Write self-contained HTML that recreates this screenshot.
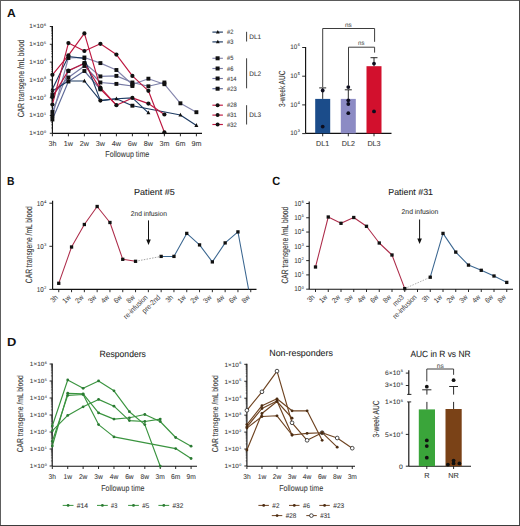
<!DOCTYPE html>
<html><head><meta charset="utf-8"><style>
html,body{margin:0;padding:0;background:#fff;}
svg{display:block;font-family:"Liberation Sans", sans-serif;text-rendering:geometricPrecision;}
</style></head><body>
<svg width="520" height="526" viewBox="0 0 520 526">
<rect x="0" y="0" width="520" height="526" fill="#fff"/>
<text transform="translate(6.99 16.50) scale(1.0245 1)" font-size="11.8" fill="#111" font-weight="bold">A</text>
<text transform="translate(7.12 184.70) scale(0.8752 1)" font-size="11.8" fill="#111" font-weight="bold">B</text>
<text transform="translate(272.26 185.00) scale(0.9330 1)" font-size="11.8" fill="#111" font-weight="bold">C</text>
<text transform="translate(6.95 345.70) scale(1.0904 1)" font-size="11.8" fill="#111" font-weight="bold">D</text>
<line x1="52.40" y1="25.90" x2="52.40" y2="133.30" stroke="#111" stroke-width="1.15" />
<line x1="49.80" y1="26.50" x2="52.40" y2="26.50" stroke="#111" stroke-width="0.9" />
<line x1="51.10" y1="38.94" x2="52.40" y2="38.94" stroke="#111" stroke-width="0.5" />
<line x1="51.10" y1="35.81" x2="52.40" y2="35.81" stroke="#111" stroke-width="0.5" />
<line x1="51.10" y1="33.58" x2="52.40" y2="33.58" stroke="#111" stroke-width="0.5" />
<line x1="51.10" y1="31.86" x2="52.40" y2="31.86" stroke="#111" stroke-width="0.5" />
<line x1="51.10" y1="30.45" x2="52.40" y2="30.45" stroke="#111" stroke-width="0.5" />
<line x1="51.10" y1="29.26" x2="52.40" y2="29.26" stroke="#111" stroke-width="0.5" />
<line x1="51.10" y1="28.22" x2="52.40" y2="28.22" stroke="#111" stroke-width="0.5" />
<line x1="51.10" y1="27.31" x2="52.40" y2="27.31" stroke="#111" stroke-width="0.5" />
<line x1="49.80" y1="44.30" x2="52.40" y2="44.30" stroke="#111" stroke-width="0.9" />
<line x1="51.10" y1="56.74" x2="52.40" y2="56.74" stroke="#111" stroke-width="0.5" />
<line x1="51.10" y1="53.61" x2="52.40" y2="53.61" stroke="#111" stroke-width="0.5" />
<line x1="51.10" y1="51.38" x2="52.40" y2="51.38" stroke="#111" stroke-width="0.5" />
<line x1="51.10" y1="49.66" x2="52.40" y2="49.66" stroke="#111" stroke-width="0.5" />
<line x1="51.10" y1="48.25" x2="52.40" y2="48.25" stroke="#111" stroke-width="0.5" />
<line x1="51.10" y1="47.06" x2="52.40" y2="47.06" stroke="#111" stroke-width="0.5" />
<line x1="51.10" y1="46.02" x2="52.40" y2="46.02" stroke="#111" stroke-width="0.5" />
<line x1="51.10" y1="45.11" x2="52.40" y2="45.11" stroke="#111" stroke-width="0.5" />
<line x1="49.80" y1="62.10" x2="52.40" y2="62.10" stroke="#111" stroke-width="0.9" />
<line x1="51.10" y1="74.54" x2="52.40" y2="74.54" stroke="#111" stroke-width="0.5" />
<line x1="51.10" y1="71.41" x2="52.40" y2="71.41" stroke="#111" stroke-width="0.5" />
<line x1="51.10" y1="69.18" x2="52.40" y2="69.18" stroke="#111" stroke-width="0.5" />
<line x1="51.10" y1="67.46" x2="52.40" y2="67.46" stroke="#111" stroke-width="0.5" />
<line x1="51.10" y1="66.05" x2="52.40" y2="66.05" stroke="#111" stroke-width="0.5" />
<line x1="51.10" y1="64.86" x2="52.40" y2="64.86" stroke="#111" stroke-width="0.5" />
<line x1="51.10" y1="63.82" x2="52.40" y2="63.82" stroke="#111" stroke-width="0.5" />
<line x1="51.10" y1="62.91" x2="52.40" y2="62.91" stroke="#111" stroke-width="0.5" />
<line x1="49.80" y1="79.90" x2="52.40" y2="79.90" stroke="#111" stroke-width="0.9" />
<line x1="51.10" y1="92.34" x2="52.40" y2="92.34" stroke="#111" stroke-width="0.5" />
<line x1="51.10" y1="89.21" x2="52.40" y2="89.21" stroke="#111" stroke-width="0.5" />
<line x1="51.10" y1="86.98" x2="52.40" y2="86.98" stroke="#111" stroke-width="0.5" />
<line x1="51.10" y1="85.26" x2="52.40" y2="85.26" stroke="#111" stroke-width="0.5" />
<line x1="51.10" y1="83.85" x2="52.40" y2="83.85" stroke="#111" stroke-width="0.5" />
<line x1="51.10" y1="82.66" x2="52.40" y2="82.66" stroke="#111" stroke-width="0.5" />
<line x1="51.10" y1="81.62" x2="52.40" y2="81.62" stroke="#111" stroke-width="0.5" />
<line x1="51.10" y1="80.71" x2="52.40" y2="80.71" stroke="#111" stroke-width="0.5" />
<line x1="49.80" y1="97.70" x2="52.40" y2="97.70" stroke="#111" stroke-width="0.9" />
<line x1="51.10" y1="110.14" x2="52.40" y2="110.14" stroke="#111" stroke-width="0.5" />
<line x1="51.10" y1="107.01" x2="52.40" y2="107.01" stroke="#111" stroke-width="0.5" />
<line x1="51.10" y1="104.78" x2="52.40" y2="104.78" stroke="#111" stroke-width="0.5" />
<line x1="51.10" y1="103.06" x2="52.40" y2="103.06" stroke="#111" stroke-width="0.5" />
<line x1="51.10" y1="101.65" x2="52.40" y2="101.65" stroke="#111" stroke-width="0.5" />
<line x1="51.10" y1="100.46" x2="52.40" y2="100.46" stroke="#111" stroke-width="0.5" />
<line x1="51.10" y1="99.42" x2="52.40" y2="99.42" stroke="#111" stroke-width="0.5" />
<line x1="51.10" y1="98.51" x2="52.40" y2="98.51" stroke="#111" stroke-width="0.5" />
<line x1="49.80" y1="115.50" x2="52.40" y2="115.50" stroke="#111" stroke-width="0.9" />
<line x1="51.10" y1="127.94" x2="52.40" y2="127.94" stroke="#111" stroke-width="0.5" />
<line x1="51.10" y1="124.81" x2="52.40" y2="124.81" stroke="#111" stroke-width="0.5" />
<line x1="51.10" y1="122.58" x2="52.40" y2="122.58" stroke="#111" stroke-width="0.5" />
<line x1="51.10" y1="120.86" x2="52.40" y2="120.86" stroke="#111" stroke-width="0.5" />
<line x1="51.10" y1="119.45" x2="52.40" y2="119.45" stroke="#111" stroke-width="0.5" />
<line x1="51.10" y1="118.26" x2="52.40" y2="118.26" stroke="#111" stroke-width="0.5" />
<line x1="51.10" y1="117.22" x2="52.40" y2="117.22" stroke="#111" stroke-width="0.5" />
<line x1="51.10" y1="116.31" x2="52.40" y2="116.31" stroke="#111" stroke-width="0.5" />
<line x1="49.80" y1="133.30" x2="52.40" y2="133.30" stroke="#111" stroke-width="0.9" />
<text transform="translate(29.26 28.30) scale(1.0300 1)" font-size="6.2" fill="#3a3a3a" stroke="#3a3a3a" stroke-width="0.08">1×10<tspan font-size="3.60" dx="0.49" dy="-2.60">6</tspan></text>
<text transform="translate(29.26 46.10) scale(1.0300 1)" font-size="6.2" fill="#3a3a3a" stroke="#3a3a3a" stroke-width="0.08">1×10<tspan font-size="3.60" dx="0.49" dy="-2.60">5</tspan></text>
<text transform="translate(29.26 63.90) scale(1.0300 1)" font-size="6.2" fill="#3a3a3a" stroke="#3a3a3a" stroke-width="0.08">1×10<tspan font-size="3.60" dx="0.49" dy="-2.60">4</tspan></text>
<text transform="translate(29.26 81.70) scale(1.0300 1)" font-size="6.2" fill="#3a3a3a" stroke="#3a3a3a" stroke-width="0.08">1×10<tspan font-size="3.60" dx="0.49" dy="-2.60">3</tspan></text>
<text transform="translate(29.26 99.50) scale(1.0300 1)" font-size="6.2" fill="#3a3a3a" stroke="#3a3a3a" stroke-width="0.08">1×10<tspan font-size="3.60" dx="0.49" dy="-2.60">2</tspan></text>
<text transform="translate(29.26 117.30) scale(1.0300 1)" font-size="6.2" fill="#3a3a3a" stroke="#3a3a3a" stroke-width="0.08">1×10<tspan font-size="3.60" dx="0.49" dy="-2.60">1</tspan></text>
<text transform="translate(29.26 135.10) scale(1.0300 1)" font-size="6.2" fill="#3a3a3a" stroke="#3a3a3a" stroke-width="0.08">1×10<tspan font-size="3.60" dx="0.49" dy="-2.60">0</tspan></text>
<line x1="52.40" y1="133.40" x2="202.00" y2="133.40" stroke="#111" stroke-width="1.15" />
<line x1="52.40" y1="133.40" x2="52.40" y2="136.30" stroke="#111" stroke-width="0.9" />
<text transform="translate(52.40 145.50) scale(1.0000 1)" font-size="7.2" text-anchor="middle" fill="#3a3a3a" stroke="#3a3a3a" stroke-width="0.08">3h</text>
<line x1="68.40" y1="133.40" x2="68.40" y2="136.30" stroke="#111" stroke-width="0.9" />
<text transform="translate(68.40 145.50) scale(1.0000 1)" font-size="7.2" text-anchor="middle" fill="#3a3a3a" stroke="#3a3a3a" stroke-width="0.08">1w</text>
<line x1="84.40" y1="133.40" x2="84.40" y2="136.30" stroke="#111" stroke-width="0.9" />
<text transform="translate(84.40 145.50) scale(1.0000 1)" font-size="7.2" text-anchor="middle" fill="#3a3a3a" stroke="#3a3a3a" stroke-width="0.08">2w</text>
<line x1="100.40" y1="133.40" x2="100.40" y2="136.30" stroke="#111" stroke-width="0.9" />
<text transform="translate(100.40 145.50) scale(1.0000 1)" font-size="7.2" text-anchor="middle" fill="#3a3a3a" stroke="#3a3a3a" stroke-width="0.08">3w</text>
<line x1="116.40" y1="133.40" x2="116.40" y2="136.30" stroke="#111" stroke-width="0.9" />
<text transform="translate(116.40 145.50) scale(1.0000 1)" font-size="7.2" text-anchor="middle" fill="#3a3a3a" stroke="#3a3a3a" stroke-width="0.08">4w</text>
<line x1="132.40" y1="133.40" x2="132.40" y2="136.30" stroke="#111" stroke-width="0.9" />
<text transform="translate(132.40 145.50) scale(1.0000 1)" font-size="7.2" text-anchor="middle" fill="#3a3a3a" stroke="#3a3a3a" stroke-width="0.08">6w</text>
<line x1="148.40" y1="133.40" x2="148.40" y2="136.30" stroke="#111" stroke-width="0.9" />
<text transform="translate(148.40 145.50) scale(1.0000 1)" font-size="7.2" text-anchor="middle" fill="#3a3a3a" stroke="#3a3a3a" stroke-width="0.08">8w</text>
<line x1="164.40" y1="133.40" x2="164.40" y2="136.30" stroke="#111" stroke-width="0.9" />
<text transform="translate(164.40 145.50) scale(1.0000 1)" font-size="7.2" text-anchor="middle" fill="#3a3a3a" stroke="#3a3a3a" stroke-width="0.08">3m</text>
<line x1="180.40" y1="133.40" x2="180.40" y2="136.30" stroke="#111" stroke-width="0.9" />
<text transform="translate(180.40 145.50) scale(1.0000 1)" font-size="7.2" text-anchor="middle" fill="#3a3a3a" stroke="#3a3a3a" stroke-width="0.08">6m</text>
<line x1="196.40" y1="133.40" x2="196.40" y2="136.30" stroke="#111" stroke-width="0.9" />
<text transform="translate(196.40 145.50) scale(1.0000 1)" font-size="7.2" text-anchor="middle" fill="#3a3a3a" stroke="#3a3a3a" stroke-width="0.08">9m</text>
<text transform="translate(105.32 157.30) scale(0.8295 1)" font-size="8.6" fill="#3a3a3a" stroke="#3a3a3a" stroke-width="0.08">Followup time</text>
<text transform="translate(24.20 117.34) rotate(-90) scale(0.7534 1)" font-size="9.0" fill="#3a3a3a" stroke="#3a3a3a" stroke-width="0.12">CAR transgene /mL blood</text>
<polyline points="52.40,116.00 68.40,58.00 84.40,57.50 100.40,63.10 116.40,70.00 132.40,84.50 148.40,78.70 164.40,84.20 180.40,103.30 196.40,112.20" fill="none" stroke="#8586ad" stroke-width="1.15" stroke-linejoin="round" />
<polyline points="52.40,112.00 68.40,71.00 84.40,63.00 100.40,76.40 116.40,75.90 132.40,82.50 148.40,86.30 164.40,82.50" fill="none" stroke="#7a7ea6" stroke-width="1.15" stroke-linejoin="round" />
<polyline points="52.40,95.00 68.40,77.50 84.40,66.00 100.40,82.50 116.40,83.90 132.40,86.00" fill="none" stroke="#7477a3" stroke-width="1.15" stroke-linejoin="round" />
<polyline points="52.40,119.50 68.40,81.50 84.40,71.00 100.40,89.30" fill="none" stroke="#5f6a98" stroke-width="1.15" stroke-linejoin="round" />
<polyline points="52.40,91.00 68.40,81.00 84.40,81.00 100.40,100.60 116.40,98.80 132.40,97.90 148.40,112.80" fill="none" stroke="#1d3a62" stroke-width="1.15" stroke-linejoin="round" />
<polyline points="52.40,89.00 68.40,56.50 84.40,58.40 100.40,100.60 116.40,98.80 132.40,105.70 180.40,115.00 196.40,125.40" fill="none" stroke="#1d3a62" stroke-width="1.15" stroke-linejoin="round" />
<polyline points="52.40,74.80 68.40,55.30 84.40,33.40 100.40,87.70 116.40,105.20 132.40,97.90 148.40,103.60 164.40,114.50" fill="none" stroke="#bd1840" stroke-width="1.15" stroke-linejoin="round" />
<polyline points="52.40,104.50 68.40,43.10 84.40,51.00 100.40,43.80 116.40,54.60 132.40,75.90 148.40,90.80 164.40,132.30" fill="none" stroke="#bd1840" stroke-width="1.15" stroke-linejoin="round" />
<polyline points="52.40,97.00 68.40,70.60 84.40,63.50 100.40,89.10 116.40,105.20" fill="none" stroke="#bd1840" stroke-width="1.15" stroke-linejoin="round" />
<rect x="50.45" y="114.05" width="3.9" height="3.9" fill="#111"/>
<rect x="66.45" y="56.05" width="3.9" height="3.9" fill="#111"/>
<rect x="82.45" y="55.55" width="3.9" height="3.9" fill="#111"/>
<rect x="98.45" y="61.15" width="3.9" height="3.9" fill="#111"/>
<rect x="114.45" y="68.05" width="3.9" height="3.9" fill="#111"/>
<rect x="130.45" y="82.55" width="3.9" height="3.9" fill="#111"/>
<rect x="146.45" y="76.75" width="3.9" height="3.9" fill="#111"/>
<rect x="162.45" y="82.25" width="3.9" height="3.9" fill="#111"/>
<rect x="178.45" y="101.35" width="3.9" height="3.9" fill="#111"/>
<rect x="194.45" y="110.25" width="3.9" height="3.9" fill="#111"/>
<rect x="50.45" y="110.05" width="3.9" height="3.9" fill="#111"/>
<rect x="66.45" y="69.05" width="3.9" height="3.9" fill="#111"/>
<rect x="82.45" y="61.05" width="3.9" height="3.9" fill="#111"/>
<rect x="98.45" y="74.45" width="3.9" height="3.9" fill="#111"/>
<rect x="114.45" y="73.95" width="3.9" height="3.9" fill="#111"/>
<rect x="130.45" y="80.55" width="3.9" height="3.9" fill="#111"/>
<rect x="146.45" y="84.35" width="3.9" height="3.9" fill="#111"/>
<rect x="162.45" y="80.55" width="3.9" height="3.9" fill="#111"/>
<rect x="50.45" y="93.05" width="3.9" height="3.9" fill="#111"/>
<rect x="66.45" y="75.55" width="3.9" height="3.9" fill="#111"/>
<rect x="82.45" y="64.05" width="3.9" height="3.9" fill="#111"/>
<rect x="98.45" y="80.55" width="3.9" height="3.9" fill="#111"/>
<rect x="114.45" y="81.95" width="3.9" height="3.9" fill="#111"/>
<rect x="130.45" y="84.05" width="3.9" height="3.9" fill="#111"/>
<rect x="50.45" y="117.55" width="3.9" height="3.9" fill="#111"/>
<rect x="66.45" y="79.55" width="3.9" height="3.9" fill="#111"/>
<rect x="82.45" y="69.05" width="3.9" height="3.9" fill="#111"/>
<rect x="98.45" y="87.35" width="3.9" height="3.9" fill="#111"/>
<polygon points="52.40,88.72 50.40,92.52 54.40,92.52" fill="#111"/>
<polygon points="68.40,78.72 66.40,82.52 70.40,82.52" fill="#111"/>
<polygon points="84.40,78.72 82.40,82.52 86.40,82.52" fill="#111"/>
<circle cx="100.40" cy="100.60" r="2.1" fill="#111" stroke="none" stroke-width="0.8"/>
<polygon points="116.40,96.52 114.40,100.32 118.40,100.32" fill="#111"/>
<polygon points="148.40,110.52 146.40,114.32 150.40,114.32" fill="#111"/>
<polygon points="52.40,86.72 50.40,90.52 54.40,90.52" fill="#111"/>
<polygon points="68.40,54.22 66.40,58.02 70.40,58.02" fill="#111"/>
<polygon points="84.40,56.12 82.40,59.92 86.40,59.92" fill="#111"/>
<rect x="130.45" y="103.75" width="3.9" height="3.9" fill="#111"/>
<polygon points="180.40,112.72 178.40,116.52 182.40,116.52" fill="#111"/>
<polygon points="196.40,123.12 194.40,126.92 198.40,126.92" fill="#111"/>
<circle cx="52.40" cy="74.80" r="2.1" fill="#111" stroke="none" stroke-width="0.8"/>
<circle cx="68.40" cy="55.30" r="2.1" fill="#111" stroke="none" stroke-width="0.8"/>
<circle cx="84.40" cy="33.40" r="2.1" fill="#111" stroke="none" stroke-width="0.8"/>
<circle cx="100.40" cy="87.70" r="2.1" fill="#111" stroke="none" stroke-width="0.8"/>
<circle cx="116.40" cy="105.20" r="2.1" fill="#111" stroke="none" stroke-width="0.8"/>
<circle cx="132.40" cy="97.90" r="2.1" fill="#111" stroke="none" stroke-width="0.8"/>
<circle cx="148.40" cy="103.60" r="2.1" fill="#111" stroke="none" stroke-width="0.8"/>
<circle cx="164.40" cy="114.50" r="2.1" fill="#111" stroke="none" stroke-width="0.8"/>
<circle cx="52.40" cy="104.50" r="2.1" fill="#111" stroke="none" stroke-width="0.8"/>
<circle cx="68.40" cy="43.10" r="2.1" fill="#111" stroke="none" stroke-width="0.8"/>
<circle cx="84.40" cy="51.00" r="2.1" fill="#111" stroke="none" stroke-width="0.8"/>
<circle cx="100.40" cy="43.80" r="2.1" fill="#111" stroke="none" stroke-width="0.8"/>
<circle cx="116.40" cy="54.60" r="2.1" fill="#111" stroke="none" stroke-width="0.8"/>
<circle cx="132.40" cy="75.90" r="2.1" fill="#111" stroke="none" stroke-width="0.8"/>
<circle cx="148.40" cy="90.80" r="2.1" fill="#111" stroke="none" stroke-width="0.8"/>
<circle cx="164.40" cy="132.30" r="2.1" fill="#111" stroke="none" stroke-width="0.8"/>
<circle cx="52.40" cy="97.00" r="2.1" fill="#111" stroke="none" stroke-width="0.8"/>
<circle cx="68.40" cy="70.60" r="2.1" fill="#111" stroke="none" stroke-width="0.8"/>
<circle cx="84.40" cy="63.50" r="2.1" fill="#111" stroke="none" stroke-width="0.8"/>
<circle cx="100.40" cy="89.10" r="2.1" fill="#111" stroke="none" stroke-width="0.8"/>
<line x1="212.40" y1="32.10" x2="222.90" y2="32.10" stroke="#1d3a62" stroke-width="1.15" />
<polygon points="217.80,29.93 215.90,33.54 219.70,33.54" fill="#111"/>
<text transform="translate(226.98 34.10) scale(0.9152 1)" font-size="6.3" fill="#3a3a3a" stroke="#3a3a3a" stroke-width="0.08">#2</text>
<line x1="212.40" y1="41.90" x2="222.90" y2="41.90" stroke="#1d3a62" stroke-width="1.15" />
<polygon points="217.80,39.73 215.90,43.34 219.70,43.34" fill="#111"/>
<text transform="translate(226.98 43.90) scale(0.9100 1)" font-size="6.3" fill="#3a3a3a" stroke="#3a3a3a" stroke-width="0.08">#3</text>
<line x1="212.40" y1="58.30" x2="222.90" y2="58.30" stroke="#8586ad" stroke-width="1.15" />
<rect x="215.60" y="56.30" width="4.0" height="4.0" fill="#111"/>
<text transform="translate(226.98 60.30) scale(0.9083 1)" font-size="6.3" fill="#3a3a3a" stroke="#3a3a3a" stroke-width="0.08">#5</text>
<line x1="212.40" y1="68.50" x2="222.90" y2="68.50" stroke="#7a7ea6" stroke-width="1.15" />
<rect x="215.60" y="66.50" width="4.0" height="4.0" fill="#111"/>
<text transform="translate(226.98 70.50) scale(0.9100 1)" font-size="6.3" fill="#3a3a3a" stroke="#3a3a3a" stroke-width="0.08">#6</text>
<line x1="212.40" y1="78.50" x2="222.90" y2="78.50" stroke="#7477a3" stroke-width="1.15" />
<rect x="215.60" y="76.50" width="4.0" height="4.0" fill="#111"/>
<text transform="translate(226.98 80.50) scale(0.9120 1)" font-size="6.3" fill="#3a3a3a" stroke="#3a3a3a" stroke-width="0.08">#14</text>
<line x1="212.40" y1="88.70" x2="222.90" y2="88.70" stroke="#5f6a98" stroke-width="1.15" />
<rect x="215.60" y="86.70" width="4.0" height="4.0" fill="#111"/>
<text transform="translate(226.98 90.70) scale(0.9210 1)" font-size="6.3" fill="#3a3a3a" stroke="#3a3a3a" stroke-width="0.08">#23</text>
<line x1="212.40" y1="105.20" x2="222.90" y2="105.20" stroke="#bd1840" stroke-width="1.15" />
<circle cx="217.60" cy="105.20" r="2.0" fill="#111" stroke="none" stroke-width="0.8"/>
<text transform="translate(226.98 107.20) scale(0.9210 1)" font-size="6.3" fill="#3a3a3a" stroke="#3a3a3a" stroke-width="0.08">#28</text>
<line x1="212.40" y1="115.10" x2="222.90" y2="115.10" stroke="#bd1840" stroke-width="1.15" />
<circle cx="217.60" cy="115.10" r="2.0" fill="#111" stroke="none" stroke-width="0.8"/>
<text transform="translate(226.98 117.10) scale(0.9233 1)" font-size="6.3" fill="#3a3a3a" stroke="#3a3a3a" stroke-width="0.08">#31</text>
<line x1="212.40" y1="124.50" x2="222.90" y2="124.50" stroke="#bd1840" stroke-width="1.15" />
<circle cx="217.60" cy="124.50" r="2.0" fill="#111" stroke="none" stroke-width="0.8"/>
<text transform="translate(226.98 126.50) scale(0.9245 1)" font-size="6.3" fill="#3a3a3a" stroke="#3a3a3a" stroke-width="0.08">#32</text>
<line x1="246.60" y1="31.80" x2="246.60" y2="41.50" stroke="#333" stroke-width="0.95" />
<text transform="translate(249.27 38.95) scale(0.9781 1)" font-size="6.6" fill="#3a3a3a" stroke="#3a3a3a" stroke-width="0.08">DL1</text>
<line x1="246.60" y1="58.30" x2="246.60" y2="88.30" stroke="#333" stroke-width="0.95" />
<text transform="translate(249.27 75.60) scale(0.9792 1)" font-size="6.6" fill="#3a3a3a" stroke="#3a3a3a" stroke-width="0.08">DL2</text>
<line x1="246.60" y1="105.20" x2="246.60" y2="124.50" stroke="#333" stroke-width="0.95" />
<text transform="translate(249.27 117.15) scale(0.9758 1)" font-size="6.6" fill="#3a3a3a" stroke="#3a3a3a" stroke-width="0.08">DL3</text>
<line x1="305.60" y1="46.90" x2="305.60" y2="133.40" stroke="#111" stroke-width="1.15" />
<line x1="302.20" y1="47.50" x2="305.60" y2="47.50" stroke="#111" stroke-width="0.9" />
<text transform="translate(290.37 49.10) scale(0.9500 1)" font-size="6.6" fill="#3a3a3a" stroke="#3a3a3a" stroke-width="0.08">10<tspan font-size="3.83" dx="0.53" dy="-2.77">6</tspan></text>
<line x1="302.20" y1="76.20" x2="305.60" y2="76.20" stroke="#111" stroke-width="0.9" />
<text transform="translate(290.37 77.80) scale(0.9500 1)" font-size="6.6" fill="#3a3a3a" stroke="#3a3a3a" stroke-width="0.08">10<tspan font-size="3.83" dx="0.53" dy="-2.77">5</tspan></text>
<line x1="302.20" y1="104.90" x2="305.60" y2="104.90" stroke="#111" stroke-width="0.9" />
<text transform="translate(290.37 106.50) scale(0.9500 1)" font-size="6.6" fill="#3a3a3a" stroke="#3a3a3a" stroke-width="0.08">10<tspan font-size="3.83" dx="0.53" dy="-2.77">4</tspan></text>
<line x1="302.20" y1="133.60" x2="305.60" y2="133.60" stroke="#111" stroke-width="0.9" />
<text transform="translate(290.37 135.20) scale(0.9500 1)" font-size="6.6" fill="#3a3a3a" stroke="#3a3a3a" stroke-width="0.08">10<tspan font-size="3.83" dx="0.53" dy="-2.77">3</tspan></text>
<line x1="305.60" y1="133.40" x2="391.50" y2="133.40" stroke="#111" stroke-width="1.15" />
<rect x="315.20" y="98.90" width="15.0" height="34.50" fill="#1b4c8a"/>
<line x1="322.70" y1="133.40" x2="322.70" y2="136.30" stroke="#111" stroke-width="0.9" />
<text transform="translate(322.70 146.20) scale(1.0000 1)" font-size="7.2" text-anchor="middle" fill="#3a3a3a" stroke="#3a3a3a" stroke-width="0.08">DL1</text>
<rect x="340.80" y="98.90" width="15.0" height="34.50" fill="#8c8bc4"/>
<line x1="348.30" y1="133.40" x2="348.30" y2="136.30" stroke="#111" stroke-width="0.9" />
<text transform="translate(348.30 146.20) scale(1.0000 1)" font-size="7.2" text-anchor="middle" fill="#3a3a3a" stroke="#3a3a3a" stroke-width="0.08">DL2</text>
<rect x="366.50" y="66.20" width="15.0" height="67.20" fill="#d2102d"/>
<line x1="374.00" y1="133.40" x2="374.00" y2="136.30" stroke="#111" stroke-width="0.9" />
<text transform="translate(374.00 146.20) scale(1.0000 1)" font-size="7.2" text-anchor="middle" fill="#3a3a3a" stroke="#3a3a3a" stroke-width="0.08">DL3</text>
<line x1="322.70" y1="98.90" x2="322.70" y2="87.90" stroke="#111" stroke-width="0.9" />
<line x1="319.20" y1="87.90" x2="326.20" y2="87.90" stroke="#111" stroke-width="0.9" />
<line x1="348.30" y1="98.90" x2="348.30" y2="89.80" stroke="#111" stroke-width="0.9" />
<line x1="344.80" y1="89.80" x2="351.80" y2="89.80" stroke="#111" stroke-width="0.9" />
<line x1="374.00" y1="66.20" x2="374.00" y2="57.70" stroke="#111" stroke-width="0.9" />
<line x1="370.50" y1="57.70" x2="377.50" y2="57.70" stroke="#111" stroke-width="0.9" />
<circle cx="322.70" cy="90.50" r="1.9" fill="#0d0d1e" stroke="none" stroke-width="0.8"/>
<circle cx="322.70" cy="126.60" r="1.9" fill="#0d0d1e" stroke="none" stroke-width="0.8"/>
<circle cx="348.30" cy="87.10" r="1.9" fill="#0d0d1e" stroke="none" stroke-width="0.8"/>
<circle cx="348.30" cy="100.30" r="1.9" fill="#0d0d1e" stroke="none" stroke-width="0.8"/>
<circle cx="348.30" cy="104.00" r="1.9" fill="#0d0d1e" stroke="none" stroke-width="0.8"/>
<circle cx="348.30" cy="113.20" r="1.9" fill="#0d0d1e" stroke="none" stroke-width="0.8"/>
<circle cx="374.00" cy="63.60" r="1.9" fill="#0d0d1e" stroke="none" stroke-width="0.8"/>
<circle cx="374.00" cy="111.40" r="1.9" fill="#0d0d1e" stroke="none" stroke-width="0.8"/>
<polyline points="322.70,87.00 322.70,28.50 374.60,28.50 374.60,41.80" fill="none" stroke="#333" stroke-width="0.95" stroke-linejoin="round" />
<polyline points="348.50,86.00 348.50,47.20 374.60,47.20 374.60,52.60" fill="none" stroke="#333" stroke-width="0.95" stroke-linejoin="round" />
<text transform="translate(344.98 26.50) scale(1.0149 1)" font-size="6.3" fill="#555" stroke="#555" stroke-width="0.08">ns</text>
<text transform="translate(358.11 45.40) scale(0.9484 1)" font-size="6.3" fill="#555" stroke="#555" stroke-width="0.08">ns</text>
<text transform="translate(284.80 106.95) rotate(-90) scale(0.7442 1)" font-size="8.8" fill="#3a3a3a" stroke="#3a3a3a" stroke-width="0.12">3-week AUC</text>
<text transform="translate(134.06 195.30) scale(1.0274 1)" font-size="8.8" fill="#222" stroke="#222" stroke-width="0.08">Patient #5</text>
<line x1="52.60" y1="200.70" x2="52.60" y2="289.40" stroke="#111" stroke-width="1.15" />
<line x1="49.40" y1="203.20" x2="52.60" y2="203.20" stroke="#111" stroke-width="0.9" />
<text transform="translate(36.63 205.70) scale(0.9000 1)" font-size="7.0" fill="#3a3a3a" stroke="#3a3a3a" stroke-width="0.08">10<tspan font-size="4.06" dx="0.56" dy="-2.94">4</tspan></text>
<line x1="49.40" y1="246.30" x2="52.60" y2="246.30" stroke="#111" stroke-width="0.9" />
<text transform="translate(36.63 248.80) scale(0.9000 1)" font-size="7.0" fill="#3a3a3a" stroke="#3a3a3a" stroke-width="0.08">10<tspan font-size="4.06" dx="0.56" dy="-2.94">3</tspan></text>
<line x1="49.40" y1="289.40" x2="52.60" y2="289.40" stroke="#111" stroke-width="0.9" />
<text transform="translate(36.63 291.90) scale(0.9000 1)" font-size="7.0" fill="#3a3a3a" stroke="#3a3a3a" stroke-width="0.08">10<tspan font-size="4.06" dx="0.56" dy="-2.94">2</tspan></text>
<line x1="52.60" y1="289.40" x2="256.50" y2="289.40" stroke="#111" stroke-width="1.15" />
<line x1="58.75" y1="289.40" x2="58.75" y2="292.20" stroke="#111" stroke-width="0.9" />
<text transform="translate(58.45 297.8) rotate(-45) scale(0.9 1)" font-size="7.3" text-anchor="end" fill="#3a3a3a">3h</text>
<line x1="71.55" y1="289.40" x2="71.55" y2="292.20" stroke="#111" stroke-width="0.9" />
<text transform="translate(71.25 297.8) rotate(-45) scale(0.9 1)" font-size="7.3" text-anchor="end" fill="#3a3a3a">1w</text>
<line x1="84.35" y1="289.40" x2="84.35" y2="292.20" stroke="#111" stroke-width="0.9" />
<text transform="translate(84.05 297.8) rotate(-45) scale(0.9 1)" font-size="7.3" text-anchor="end" fill="#3a3a3a">2w</text>
<line x1="97.15" y1="289.40" x2="97.15" y2="292.20" stroke="#111" stroke-width="0.9" />
<text transform="translate(96.85 297.8) rotate(-45) scale(0.9 1)" font-size="7.3" text-anchor="end" fill="#3a3a3a">3w</text>
<line x1="109.95" y1="289.40" x2="109.95" y2="292.20" stroke="#111" stroke-width="0.9" />
<text transform="translate(109.65 297.8) rotate(-45) scale(0.9 1)" font-size="7.3" text-anchor="end" fill="#3a3a3a">4w</text>
<line x1="122.75" y1="289.40" x2="122.75" y2="292.20" stroke="#111" stroke-width="0.9" />
<text transform="translate(122.45 297.8) rotate(-45) scale(0.9 1)" font-size="7.3" text-anchor="end" fill="#3a3a3a">6w</text>
<line x1="135.55" y1="289.40" x2="135.55" y2="292.20" stroke="#111" stroke-width="0.9" />
<text transform="translate(135.25 297.8) rotate(-45) scale(0.9 1)" font-size="7.3" text-anchor="end" fill="#3a3a3a">8w</text>
<line x1="148.35" y1="289.40" x2="148.35" y2="292.20" stroke="#111" stroke-width="0.9" />
<text transform="translate(148.05 297.8) rotate(-45) scale(0.9 1)" font-size="7.3" text-anchor="end" fill="#3a3a3a">re-infusion</text>
<line x1="161.15" y1="289.40" x2="161.15" y2="292.20" stroke="#111" stroke-width="0.9" />
<text transform="translate(160.85 297.8) rotate(-45) scale(0.9 1)" font-size="7.3" text-anchor="end" fill="#3a3a3a">pre-2nd</text>
<line x1="173.95" y1="289.40" x2="173.95" y2="292.20" stroke="#111" stroke-width="0.9" />
<text transform="translate(173.65 297.8) rotate(-45) scale(0.9 1)" font-size="7.3" text-anchor="end" fill="#3a3a3a">3h</text>
<line x1="186.75" y1="289.40" x2="186.75" y2="292.20" stroke="#111" stroke-width="0.9" />
<text transform="translate(186.45 297.8) rotate(-45) scale(0.9 1)" font-size="7.3" text-anchor="end" fill="#3a3a3a">1w</text>
<line x1="199.55" y1="289.40" x2="199.55" y2="292.20" stroke="#111" stroke-width="0.9" />
<text transform="translate(199.25 297.8) rotate(-45) scale(0.9 1)" font-size="7.3" text-anchor="end" fill="#3a3a3a">2w</text>
<line x1="212.35" y1="289.40" x2="212.35" y2="292.20" stroke="#111" stroke-width="0.9" />
<text transform="translate(212.05 297.8) rotate(-45) scale(0.9 1)" font-size="7.3" text-anchor="end" fill="#3a3a3a">3w</text>
<line x1="225.15" y1="289.40" x2="225.15" y2="292.20" stroke="#111" stroke-width="0.9" />
<text transform="translate(224.85 297.8) rotate(-45) scale(0.9 1)" font-size="7.3" text-anchor="end" fill="#3a3a3a">4w</text>
<line x1="237.95" y1="289.40" x2="237.95" y2="292.20" stroke="#111" stroke-width="0.9" />
<text transform="translate(237.65 297.8) rotate(-45) scale(0.9 1)" font-size="7.3" text-anchor="end" fill="#3a3a3a">6w</text>
<line x1="250.75" y1="289.40" x2="250.75" y2="292.20" stroke="#111" stroke-width="0.9" />
<text transform="translate(250.45 297.8) rotate(-45) scale(0.9 1)" font-size="7.3" text-anchor="end" fill="#3a3a3a">8w</text>
<text transform="translate(31.80 283.14) rotate(-90) scale(0.7294 1)" font-size="9.2" fill="#3a3a3a" stroke="#3a3a3a" stroke-width="0.12">CAR transgene /mL blood</text>
<polyline points="58.75,283.30 71.55,247.00 84.35,224.50 97.15,206.50 109.95,222.50 122.75,259.30 135.55,261.30" fill="none" stroke="#ad2c4a" stroke-width="1.05" stroke-linejoin="round" />
<line x1="135.55" y1="261.30" x2="161.15" y2="256.40" stroke="#9a9a9a" stroke-width="0.9" stroke-dasharray="1.5 1.3"/>
<polyline points="161.15,256.40 173.95,256.40 186.75,233.40 199.55,244.90 212.35,261.90 225.15,242.90 237.95,231.90 248.60,289.40" fill="none" stroke="#3a6690" stroke-width="1.05" stroke-linejoin="round" />
<rect x="57.10" y="281.65" width="3.3" height="3.3" fill="#111"/>
<rect x="69.90" y="245.35" width="3.3" height="3.3" fill="#111"/>
<rect x="82.70" y="222.85" width="3.3" height="3.3" fill="#111"/>
<rect x="95.50" y="204.85" width="3.3" height="3.3" fill="#111"/>
<rect x="108.30" y="220.85" width="3.3" height="3.3" fill="#111"/>
<rect x="121.10" y="257.65" width="3.3" height="3.3" fill="#111"/>
<rect x="133.90" y="259.65" width="3.3" height="3.3" fill="#111"/>
<rect x="159.50" y="254.75" width="3.3" height="3.3" fill="#111"/>
<rect x="172.30" y="254.75" width="3.3" height="3.3" fill="#111"/>
<rect x="185.10" y="231.75" width="3.3" height="3.3" fill="#111"/>
<rect x="197.90" y="243.25" width="3.3" height="3.3" fill="#111"/>
<rect x="210.70" y="260.25" width="3.3" height="3.3" fill="#111"/>
<rect x="223.50" y="241.25" width="3.3" height="3.3" fill="#111"/>
<rect x="236.30" y="230.25" width="3.3" height="3.3" fill="#111"/>
<text transform="translate(130.66 215.70) scale(0.9609 1)" font-size="7.0" fill="#3a3a3a" stroke="#3a3a3a" stroke-width="0.08">2nd infusion</text>
<line x1="148.50" y1="220.40" x2="148.50" y2="242.00" stroke="#111" stroke-width="1.0" />
<polygon points="146.2,239.4 150.8,239.4 148.5,245.0" fill="#111"/>
<text transform="translate(388.27 195.30) scale(1.0050 1)" font-size="8.8" fill="#222" stroke="#222" stroke-width="0.08">Patient #31</text>
<line x1="309.20" y1="201.50" x2="309.20" y2="289.20" stroke="#111" stroke-width="1.15" />
<line x1="306.20" y1="203.50" x2="309.20" y2="203.50" stroke="#111" stroke-width="0.9" />
<text transform="translate(294.13 205.80) scale(0.9000 1)" font-size="7.0" fill="#3a3a3a" stroke="#3a3a3a" stroke-width="0.08">10<tspan font-size="4.06" dx="0.56" dy="-2.94">6</tspan></text>
<line x1="306.20" y1="217.78" x2="309.20" y2="217.78" stroke="#111" stroke-width="0.9" />
<text transform="translate(294.13 220.08) scale(0.9000 1)" font-size="7.0" fill="#3a3a3a" stroke="#3a3a3a" stroke-width="0.08">10<tspan font-size="4.06" dx="0.56" dy="-2.94">5</tspan></text>
<line x1="306.20" y1="232.06" x2="309.20" y2="232.06" stroke="#111" stroke-width="0.9" />
<text transform="translate(294.13 234.36) scale(0.9000 1)" font-size="7.0" fill="#3a3a3a" stroke="#3a3a3a" stroke-width="0.08">10<tspan font-size="4.06" dx="0.56" dy="-2.94">4</tspan></text>
<line x1="306.20" y1="246.34" x2="309.20" y2="246.34" stroke="#111" stroke-width="0.9" />
<text transform="translate(294.13 248.64) scale(0.9000 1)" font-size="7.0" fill="#3a3a3a" stroke="#3a3a3a" stroke-width="0.08">10<tspan font-size="4.06" dx="0.56" dy="-2.94">3</tspan></text>
<line x1="306.20" y1="260.62" x2="309.20" y2="260.62" stroke="#111" stroke-width="0.9" />
<text transform="translate(294.13 262.92) scale(0.9000 1)" font-size="7.0" fill="#3a3a3a" stroke="#3a3a3a" stroke-width="0.08">10<tspan font-size="4.06" dx="0.56" dy="-2.94">2</tspan></text>
<line x1="306.20" y1="274.90" x2="309.20" y2="274.90" stroke="#111" stroke-width="0.9" />
<text transform="translate(294.13 277.20) scale(0.9000 1)" font-size="7.0" fill="#3a3a3a" stroke="#3a3a3a" stroke-width="0.08">10<tspan font-size="4.06" dx="0.56" dy="-2.94">1</tspan></text>
<line x1="306.20" y1="289.18" x2="309.20" y2="289.18" stroke="#111" stroke-width="0.9" />
<text transform="translate(294.13 291.48) scale(0.9000 1)" font-size="7.0" fill="#3a3a3a" stroke="#3a3a3a" stroke-width="0.08">10<tspan font-size="4.06" dx="0.56" dy="-2.94">0</tspan></text>
<line x1="309.20" y1="289.20" x2="513.00" y2="289.20" stroke="#111" stroke-width="1.15" />
<line x1="315.50" y1="289.20" x2="315.50" y2="292.00" stroke="#111" stroke-width="0.9" />
<text transform="translate(315.20 297.6) rotate(-45) scale(0.9 1)" font-size="7.3" text-anchor="end" fill="#3a3a3a">3h</text>
<line x1="328.25" y1="289.20" x2="328.25" y2="292.00" stroke="#111" stroke-width="0.9" />
<text transform="translate(327.95 297.6) rotate(-45) scale(0.9 1)" font-size="7.3" text-anchor="end" fill="#3a3a3a">1w</text>
<line x1="341.00" y1="289.20" x2="341.00" y2="292.00" stroke="#111" stroke-width="0.9" />
<text transform="translate(340.70 297.6) rotate(-45) scale(0.9 1)" font-size="7.3" text-anchor="end" fill="#3a3a3a">2w</text>
<line x1="353.75" y1="289.20" x2="353.75" y2="292.00" stroke="#111" stroke-width="0.9" />
<text transform="translate(353.45 297.6) rotate(-45) scale(0.9 1)" font-size="7.3" text-anchor="end" fill="#3a3a3a">3w</text>
<line x1="366.50" y1="289.20" x2="366.50" y2="292.00" stroke="#111" stroke-width="0.9" />
<text transform="translate(366.20 297.6) rotate(-45) scale(0.9 1)" font-size="7.3" text-anchor="end" fill="#3a3a3a">4w</text>
<line x1="379.25" y1="289.20" x2="379.25" y2="292.00" stroke="#111" stroke-width="0.9" />
<text transform="translate(378.95 297.6) rotate(-45) scale(0.9 1)" font-size="7.3" text-anchor="end" fill="#3a3a3a">6w</text>
<line x1="392.00" y1="289.20" x2="392.00" y2="292.00" stroke="#111" stroke-width="0.9" />
<text transform="translate(391.70 297.6) rotate(-45) scale(0.9 1)" font-size="7.3" text-anchor="end" fill="#3a3a3a">8w</text>
<line x1="404.75" y1="289.20" x2="404.75" y2="292.00" stroke="#111" stroke-width="0.9" />
<text transform="translate(404.45 297.6) rotate(-45) scale(0.9 1)" font-size="7.3" text-anchor="end" fill="#3a3a3a">mo3</text>
<line x1="417.50" y1="289.20" x2="417.50" y2="292.00" stroke="#111" stroke-width="0.9" />
<text transform="translate(417.20 297.6) rotate(-45) scale(0.9 1)" font-size="7.3" text-anchor="end" fill="#3a3a3a">re-infusion</text>
<line x1="430.25" y1="289.20" x2="430.25" y2="292.00" stroke="#111" stroke-width="0.9" />
<text transform="translate(429.95 297.6) rotate(-45) scale(0.9 1)" font-size="7.3" text-anchor="end" fill="#3a3a3a">3h</text>
<line x1="443.00" y1="289.20" x2="443.00" y2="292.00" stroke="#111" stroke-width="0.9" />
<text transform="translate(442.70 297.6) rotate(-45) scale(0.9 1)" font-size="7.3" text-anchor="end" fill="#3a3a3a">1w</text>
<line x1="455.75" y1="289.20" x2="455.75" y2="292.00" stroke="#111" stroke-width="0.9" />
<text transform="translate(455.45 297.6) rotate(-45) scale(0.9 1)" font-size="7.3" text-anchor="end" fill="#3a3a3a">2w</text>
<line x1="468.50" y1="289.20" x2="468.50" y2="292.00" stroke="#111" stroke-width="0.9" />
<text transform="translate(468.20 297.6) rotate(-45) scale(0.9 1)" font-size="7.3" text-anchor="end" fill="#3a3a3a">3w</text>
<line x1="481.25" y1="289.20" x2="481.25" y2="292.00" stroke="#111" stroke-width="0.9" />
<text transform="translate(480.95 297.6) rotate(-45) scale(0.9 1)" font-size="7.3" text-anchor="end" fill="#3a3a3a">4w</text>
<line x1="494.00" y1="289.20" x2="494.00" y2="292.00" stroke="#111" stroke-width="0.9" />
<text transform="translate(493.70 297.6) rotate(-45) scale(0.9 1)" font-size="7.3" text-anchor="end" fill="#3a3a3a">6w</text>
<line x1="506.75" y1="289.20" x2="506.75" y2="292.00" stroke="#111" stroke-width="0.9" />
<text transform="translate(506.45 297.6) rotate(-45) scale(0.9 1)" font-size="7.3" text-anchor="end" fill="#3a3a3a">8w</text>
<text transform="translate(288.40 283.54) rotate(-90) scale(0.7294 1)" font-size="9.2" fill="#3a3a3a" stroke="#3a3a3a" stroke-width="0.12">CAR transgene /mL blood</text>
<polyline points="315.50,267.00 328.25,217.00 341.00,223.30 353.75,217.50 366.50,226.30 379.25,243.00 392.00,255.00 404.75,288.60" fill="none" stroke="#ad2c4a" stroke-width="1.05" stroke-linejoin="round" />
<line x1="404.75" y1="288.60" x2="430.25" y2="277.20" stroke="#a8a8a8" stroke-width="0.9" stroke-dasharray="1.5 1.3"/>
<polyline points="430.25,277.20 443.00,233.40 455.75,252.10 468.50,265.10 481.25,270.30 494.00,276.00 506.75,282.40" fill="none" stroke="#3a6690" stroke-width="1.05" stroke-linejoin="round" />
<rect x="313.85" y="265.35" width="3.3" height="3.3" fill="#111"/>
<rect x="326.60" y="215.35" width="3.3" height="3.3" fill="#111"/>
<rect x="339.35" y="221.65" width="3.3" height="3.3" fill="#111"/>
<rect x="352.10" y="215.85" width="3.3" height="3.3" fill="#111"/>
<rect x="364.85" y="224.65" width="3.3" height="3.3" fill="#111"/>
<rect x="377.60" y="241.35" width="3.3" height="3.3" fill="#111"/>
<rect x="390.35" y="253.35" width="3.3" height="3.3" fill="#111"/>
<rect x="403.10" y="286.95" width="3.3" height="3.3" fill="#111"/>
<rect x="428.60" y="275.55" width="3.3" height="3.3" fill="#111"/>
<rect x="441.35" y="231.75" width="3.3" height="3.3" fill="#111"/>
<rect x="454.10" y="250.45" width="3.3" height="3.3" fill="#111"/>
<rect x="466.85" y="263.45" width="3.3" height="3.3" fill="#111"/>
<rect x="479.60" y="268.65" width="3.3" height="3.3" fill="#111"/>
<rect x="492.35" y="274.35" width="3.3" height="3.3" fill="#111"/>
<rect x="505.10" y="280.75" width="3.3" height="3.3" fill="#111"/>
<text transform="translate(401.56 214.20) scale(0.9744 1)" font-size="7.0" fill="#3a3a3a" stroke="#3a3a3a" stroke-width="0.08">2nd infusion</text>
<line x1="419.60" y1="219.50" x2="419.60" y2="241.00" stroke="#111" stroke-width="1.0" />
<polygon points="417.3,238.4 421.9,238.4 419.6,244.0" fill="#111"/>
<text transform="translate(99.49 356.50) scale(0.9694 1)" font-size="8.9" fill="#222" stroke="#222" stroke-width="0.08">Responders</text>
<line x1="52.20" y1="363.40" x2="52.20" y2="466.00" stroke="#111" stroke-width="1.15" />
<line x1="49.60" y1="364.00" x2="52.20" y2="364.00" stroke="#111" stroke-width="0.9" />
<line x1="50.90" y1="375.88" x2="52.20" y2="375.88" stroke="#111" stroke-width="0.5" />
<line x1="50.90" y1="372.89" x2="52.20" y2="372.89" stroke="#111" stroke-width="0.5" />
<line x1="50.90" y1="370.76" x2="52.20" y2="370.76" stroke="#111" stroke-width="0.5" />
<line x1="50.90" y1="369.12" x2="52.20" y2="369.12" stroke="#111" stroke-width="0.5" />
<line x1="50.90" y1="367.77" x2="52.20" y2="367.77" stroke="#111" stroke-width="0.5" />
<line x1="50.90" y1="366.63" x2="52.20" y2="366.63" stroke="#111" stroke-width="0.5" />
<line x1="50.90" y1="365.65" x2="52.20" y2="365.65" stroke="#111" stroke-width="0.5" />
<line x1="50.90" y1="364.78" x2="52.20" y2="364.78" stroke="#111" stroke-width="0.5" />
<line x1="49.60" y1="381.00" x2="52.20" y2="381.00" stroke="#111" stroke-width="0.9" />
<line x1="50.90" y1="392.88" x2="52.20" y2="392.88" stroke="#111" stroke-width="0.5" />
<line x1="50.90" y1="389.89" x2="52.20" y2="389.89" stroke="#111" stroke-width="0.5" />
<line x1="50.90" y1="387.76" x2="52.20" y2="387.76" stroke="#111" stroke-width="0.5" />
<line x1="50.90" y1="386.12" x2="52.20" y2="386.12" stroke="#111" stroke-width="0.5" />
<line x1="50.90" y1="384.77" x2="52.20" y2="384.77" stroke="#111" stroke-width="0.5" />
<line x1="50.90" y1="383.63" x2="52.20" y2="383.63" stroke="#111" stroke-width="0.5" />
<line x1="50.90" y1="382.65" x2="52.20" y2="382.65" stroke="#111" stroke-width="0.5" />
<line x1="50.90" y1="381.78" x2="52.20" y2="381.78" stroke="#111" stroke-width="0.5" />
<line x1="49.60" y1="398.00" x2="52.20" y2="398.00" stroke="#111" stroke-width="0.9" />
<line x1="50.90" y1="409.88" x2="52.20" y2="409.88" stroke="#111" stroke-width="0.5" />
<line x1="50.90" y1="406.89" x2="52.20" y2="406.89" stroke="#111" stroke-width="0.5" />
<line x1="50.90" y1="404.76" x2="52.20" y2="404.76" stroke="#111" stroke-width="0.5" />
<line x1="50.90" y1="403.12" x2="52.20" y2="403.12" stroke="#111" stroke-width="0.5" />
<line x1="50.90" y1="401.77" x2="52.20" y2="401.77" stroke="#111" stroke-width="0.5" />
<line x1="50.90" y1="400.63" x2="52.20" y2="400.63" stroke="#111" stroke-width="0.5" />
<line x1="50.90" y1="399.65" x2="52.20" y2="399.65" stroke="#111" stroke-width="0.5" />
<line x1="50.90" y1="398.78" x2="52.20" y2="398.78" stroke="#111" stroke-width="0.5" />
<line x1="49.60" y1="415.00" x2="52.20" y2="415.00" stroke="#111" stroke-width="0.9" />
<line x1="50.90" y1="426.88" x2="52.20" y2="426.88" stroke="#111" stroke-width="0.5" />
<line x1="50.90" y1="423.89" x2="52.20" y2="423.89" stroke="#111" stroke-width="0.5" />
<line x1="50.90" y1="421.76" x2="52.20" y2="421.76" stroke="#111" stroke-width="0.5" />
<line x1="50.90" y1="420.12" x2="52.20" y2="420.12" stroke="#111" stroke-width="0.5" />
<line x1="50.90" y1="418.77" x2="52.20" y2="418.77" stroke="#111" stroke-width="0.5" />
<line x1="50.90" y1="417.63" x2="52.20" y2="417.63" stroke="#111" stroke-width="0.5" />
<line x1="50.90" y1="416.65" x2="52.20" y2="416.65" stroke="#111" stroke-width="0.5" />
<line x1="50.90" y1="415.78" x2="52.20" y2="415.78" stroke="#111" stroke-width="0.5" />
<line x1="49.60" y1="432.00" x2="52.20" y2="432.00" stroke="#111" stroke-width="0.9" />
<line x1="50.90" y1="443.88" x2="52.20" y2="443.88" stroke="#111" stroke-width="0.5" />
<line x1="50.90" y1="440.89" x2="52.20" y2="440.89" stroke="#111" stroke-width="0.5" />
<line x1="50.90" y1="438.76" x2="52.20" y2="438.76" stroke="#111" stroke-width="0.5" />
<line x1="50.90" y1="437.12" x2="52.20" y2="437.12" stroke="#111" stroke-width="0.5" />
<line x1="50.90" y1="435.77" x2="52.20" y2="435.77" stroke="#111" stroke-width="0.5" />
<line x1="50.90" y1="434.63" x2="52.20" y2="434.63" stroke="#111" stroke-width="0.5" />
<line x1="50.90" y1="433.65" x2="52.20" y2="433.65" stroke="#111" stroke-width="0.5" />
<line x1="50.90" y1="432.78" x2="52.20" y2="432.78" stroke="#111" stroke-width="0.5" />
<line x1="49.60" y1="449.00" x2="52.20" y2="449.00" stroke="#111" stroke-width="0.9" />
<line x1="50.90" y1="460.88" x2="52.20" y2="460.88" stroke="#111" stroke-width="0.5" />
<line x1="50.90" y1="457.89" x2="52.20" y2="457.89" stroke="#111" stroke-width="0.5" />
<line x1="50.90" y1="455.76" x2="52.20" y2="455.76" stroke="#111" stroke-width="0.5" />
<line x1="50.90" y1="454.12" x2="52.20" y2="454.12" stroke="#111" stroke-width="0.5" />
<line x1="50.90" y1="452.77" x2="52.20" y2="452.77" stroke="#111" stroke-width="0.5" />
<line x1="50.90" y1="451.63" x2="52.20" y2="451.63" stroke="#111" stroke-width="0.5" />
<line x1="50.90" y1="450.65" x2="52.20" y2="450.65" stroke="#111" stroke-width="0.5" />
<line x1="50.90" y1="449.78" x2="52.20" y2="449.78" stroke="#111" stroke-width="0.5" />
<line x1="49.60" y1="466.00" x2="52.20" y2="466.00" stroke="#111" stroke-width="0.9" />
<text transform="translate(29.86 366.30) scale(1.0300 1)" font-size="6.2" fill="#3a3a3a" stroke="#3a3a3a" stroke-width="0.08">1×10<tspan font-size="3.60" dx="0.49" dy="-2.60">6</tspan></text>
<text transform="translate(29.86 383.30) scale(1.0300 1)" font-size="6.2" fill="#3a3a3a" stroke="#3a3a3a" stroke-width="0.08">1×10<tspan font-size="3.60" dx="0.49" dy="-2.60">5</tspan></text>
<text transform="translate(29.86 400.30) scale(1.0300 1)" font-size="6.2" fill="#3a3a3a" stroke="#3a3a3a" stroke-width="0.08">1×10<tspan font-size="3.60" dx="0.49" dy="-2.60">4</tspan></text>
<text transform="translate(29.86 417.30) scale(1.0300 1)" font-size="6.2" fill="#3a3a3a" stroke="#3a3a3a" stroke-width="0.08">1×10<tspan font-size="3.60" dx="0.49" dy="-2.60">3</tspan></text>
<text transform="translate(29.86 434.30) scale(1.0300 1)" font-size="6.2" fill="#3a3a3a" stroke="#3a3a3a" stroke-width="0.08">1×10<tspan font-size="3.60" dx="0.49" dy="-2.60">2</tspan></text>
<text transform="translate(29.86 451.30) scale(1.0300 1)" font-size="6.2" fill="#3a3a3a" stroke="#3a3a3a" stroke-width="0.08">1×10<tspan font-size="3.60" dx="0.49" dy="-2.60">1</tspan></text>
<text transform="translate(29.86 468.30) scale(1.0300 1)" font-size="6.2" fill="#3a3a3a" stroke="#3a3a3a" stroke-width="0.08">1×10<tspan font-size="3.60" dx="0.49" dy="-2.60">0</tspan></text>
<line x1="52.20" y1="466.20" x2="197.00" y2="466.20" stroke="#111" stroke-width="1.15" />
<line x1="52.30" y1="466.20" x2="52.30" y2="469.00" stroke="#111" stroke-width="0.9" />
<text transform="translate(52.30 479.00) scale(0.9500 1)" font-size="7.0" text-anchor="middle" fill="#3a3a3a" stroke="#3a3a3a" stroke-width="0.08">3h</text>
<line x1="67.72" y1="466.20" x2="67.72" y2="469.00" stroke="#111" stroke-width="0.9" />
<text transform="translate(67.72 479.00) scale(0.9500 1)" font-size="7.0" text-anchor="middle" fill="#3a3a3a" stroke="#3a3a3a" stroke-width="0.08">1w</text>
<line x1="83.14" y1="466.20" x2="83.14" y2="469.00" stroke="#111" stroke-width="0.9" />
<text transform="translate(83.14 479.00) scale(0.9500 1)" font-size="7.0" text-anchor="middle" fill="#3a3a3a" stroke="#3a3a3a" stroke-width="0.08">2w</text>
<line x1="98.56" y1="466.20" x2="98.56" y2="469.00" stroke="#111" stroke-width="0.9" />
<text transform="translate(98.56 479.00) scale(0.9500 1)" font-size="7.0" text-anchor="middle" fill="#3a3a3a" stroke="#3a3a3a" stroke-width="0.08">3w</text>
<line x1="113.98" y1="466.20" x2="113.98" y2="469.00" stroke="#111" stroke-width="0.9" />
<text transform="translate(113.98 479.00) scale(0.9500 1)" font-size="7.0" text-anchor="middle" fill="#3a3a3a" stroke="#3a3a3a" stroke-width="0.08">4w</text>
<line x1="129.40" y1="466.20" x2="129.40" y2="469.00" stroke="#111" stroke-width="0.9" />
<text transform="translate(129.40 479.00) scale(0.9500 1)" font-size="7.0" text-anchor="middle" fill="#3a3a3a" stroke="#3a3a3a" stroke-width="0.08">6w</text>
<line x1="144.82" y1="466.20" x2="144.82" y2="469.00" stroke="#111" stroke-width="0.9" />
<text transform="translate(144.82 479.00) scale(0.9500 1)" font-size="7.0" text-anchor="middle" fill="#3a3a3a" stroke="#3a3a3a" stroke-width="0.08">8w</text>
<line x1="160.24" y1="466.20" x2="160.24" y2="469.00" stroke="#111" stroke-width="0.9" />
<text transform="translate(160.24 479.00) scale(0.9500 1)" font-size="7.0" text-anchor="middle" fill="#3a3a3a" stroke="#3a3a3a" stroke-width="0.08">3m</text>
<line x1="175.66" y1="466.20" x2="175.66" y2="469.00" stroke="#111" stroke-width="0.9" />
<text transform="translate(175.66 479.00) scale(0.9500 1)" font-size="7.0" text-anchor="middle" fill="#3a3a3a" stroke="#3a3a3a" stroke-width="0.08">6m</text>
<line x1="191.08" y1="466.20" x2="191.08" y2="469.00" stroke="#111" stroke-width="0.9" />
<text transform="translate(191.08 479.00) scale(0.9500 1)" font-size="7.0" text-anchor="middle" fill="#3a3a3a" stroke="#3a3a3a" stroke-width="0.08">9m</text>
<text transform="translate(101.22 490.80) scale(0.8160 1)" font-size="8.6" fill="#3a3a3a" stroke="#3a3a3a" stroke-width="0.08">Followup time</text>
<text transform="translate(22.60 452.34) rotate(-90) scale(0.7813 1)" font-size="8.6" fill="#3a3a3a" stroke="#3a3a3a" stroke-width="0.12">CAR transgene /mL blood</text>
<polyline points="52.30,426.00 67.72,380.00 83.14,388.30 98.56,380.90 113.98,390.80 129.40,411.70 144.82,424.60 160.24,466.20" fill="none" stroke="#3a943f" stroke-width="1.15" stroke-linejoin="round" />
<circle cx="52.30" cy="426.00" r="1.4" fill="#2b7a33" stroke="none" stroke-width="0.8"/>
<circle cx="67.72" cy="380.00" r="1.4" fill="#2b7a33" stroke="none" stroke-width="0.8"/>
<circle cx="83.14" cy="388.30" r="1.4" fill="#2b7a33" stroke="none" stroke-width="0.8"/>
<circle cx="98.56" cy="380.90" r="1.4" fill="#2b7a33" stroke="none" stroke-width="0.8"/>
<circle cx="113.98" cy="390.80" r="1.4" fill="#2b7a33" stroke="none" stroke-width="0.8"/>
<circle cx="129.40" cy="411.70" r="1.4" fill="#2b7a33" stroke="none" stroke-width="0.8"/>
<circle cx="144.82" cy="424.60" r="1.4" fill="#2b7a33" stroke="none" stroke-width="0.8"/>
<circle cx="160.24" cy="466.20" r="1.4" fill="#2b7a33" stroke="none" stroke-width="0.8"/>
<polyline points="52.30,446.00 67.72,393.20 83.14,393.80 98.56,412.90 113.98,419.10 129.40,417.80 144.82,414.50 160.24,421.50 175.66,437.50 191.08,446.20" fill="none" stroke="#3a943f" stroke-width="1.15" stroke-linejoin="round" />
<circle cx="52.30" cy="446.00" r="1.4" fill="#2b7a33" stroke="none" stroke-width="0.8"/>
<circle cx="67.72" cy="393.20" r="1.4" fill="#2b7a33" stroke="none" stroke-width="0.8"/>
<circle cx="83.14" cy="393.80" r="1.4" fill="#2b7a33" stroke="none" stroke-width="0.8"/>
<circle cx="98.56" cy="412.90" r="1.4" fill="#2b7a33" stroke="none" stroke-width="0.8"/>
<circle cx="113.98" cy="419.10" r="1.4" fill="#2b7a33" stroke="none" stroke-width="0.8"/>
<circle cx="129.40" cy="417.80" r="1.4" fill="#2b7a33" stroke="none" stroke-width="0.8"/>
<circle cx="144.82" cy="414.50" r="1.4" fill="#2b7a33" stroke="none" stroke-width="0.8"/>
<circle cx="160.24" cy="421.50" r="1.4" fill="#2b7a33" stroke="none" stroke-width="0.8"/>
<circle cx="175.66" cy="437.50" r="1.4" fill="#2b7a33" stroke="none" stroke-width="0.8"/>
<circle cx="191.08" cy="446.20" r="1.4" fill="#2b7a33" stroke="none" stroke-width="0.8"/>
<polyline points="52.30,441.50 67.72,395.40 83.14,394.50 98.56,424.60 113.98,436.90 175.66,448.60 191.08,458.50" fill="none" stroke="#3a943f" stroke-width="1.15" stroke-linejoin="round" />
<circle cx="52.30" cy="441.50" r="1.4" fill="#2b7a33" stroke="none" stroke-width="0.8"/>
<circle cx="67.72" cy="395.40" r="1.4" fill="#2b7a33" stroke="none" stroke-width="0.8"/>
<circle cx="83.14" cy="394.50" r="1.4" fill="#2b7a33" stroke="none" stroke-width="0.8"/>
<circle cx="98.56" cy="424.60" r="1.4" fill="#2b7a33" stroke="none" stroke-width="0.8"/>
<circle cx="113.98" cy="436.90" r="1.4" fill="#2b7a33" stroke="none" stroke-width="0.8"/>
<circle cx="175.66" cy="448.60" r="1.4" fill="#2b7a33" stroke="none" stroke-width="0.8"/>
<circle cx="191.08" cy="458.50" r="1.4" fill="#2b7a33" stroke="none" stroke-width="0.8"/>
<polyline points="52.30,430.80 67.72,415.40 83.14,406.80 98.56,399.40 113.98,406.20 129.40,420.60 144.82,421.50 160.24,419.10" fill="none" stroke="#3a943f" stroke-width="1.15" stroke-linejoin="round" />
<circle cx="52.30" cy="430.80" r="1.4" fill="#2b7a33" stroke="none" stroke-width="0.8"/>
<circle cx="67.72" cy="415.40" r="1.4" fill="#2b7a33" stroke="none" stroke-width="0.8"/>
<circle cx="83.14" cy="406.80" r="1.4" fill="#2b7a33" stroke="none" stroke-width="0.8"/>
<circle cx="98.56" cy="399.40" r="1.4" fill="#2b7a33" stroke="none" stroke-width="0.8"/>
<circle cx="113.98" cy="406.20" r="1.4" fill="#2b7a33" stroke="none" stroke-width="0.8"/>
<circle cx="129.40" cy="420.60" r="1.4" fill="#2b7a33" stroke="none" stroke-width="0.8"/>
<circle cx="144.82" cy="421.50" r="1.4" fill="#2b7a33" stroke="none" stroke-width="0.8"/>
<circle cx="160.24" cy="419.10" r="1.4" fill="#2b7a33" stroke="none" stroke-width="0.8"/>
<line x1="62.70" y1="505.40" x2="73.50" y2="505.40" stroke="#3a943f" stroke-width="1.0" />
<circle cx="68.10" cy="505.40" r="1.4" fill="#2b7a33" stroke="none" stroke-width="0.8"/>
<text transform="translate(76.77 507.70) scale(0.9978 1)" font-size="6.8" fill="#3a3a3a" stroke="#3a3a3a" stroke-width="0.08">#14</text>
<line x1="97.00" y1="505.40" x2="107.80" y2="505.40" stroke="#3a943f" stroke-width="1.0" />
<circle cx="102.40" cy="505.40" r="1.4" fill="#2b7a33" stroke="none" stroke-width="0.8"/>
<text transform="translate(111.08 507.70) scale(0.8293 1)" font-size="6.8" fill="#3a3a3a" stroke="#3a3a3a" stroke-width="0.08">#3</text>
<line x1="128.10" y1="505.40" x2="138.90" y2="505.40" stroke="#3a943f" stroke-width="1.0" />
<circle cx="133.50" cy="505.40" r="1.4" fill="#2b7a33" stroke="none" stroke-width="0.8"/>
<text transform="translate(142.17 507.70) scale(0.9243 1)" font-size="6.8" fill="#3a3a3a" stroke="#3a3a3a" stroke-width="0.08">#5</text>
<line x1="158.40" y1="505.40" x2="169.20" y2="505.40" stroke="#3a943f" stroke-width="1.0" />
<circle cx="163.80" cy="505.40" r="1.4" fill="#2b7a33" stroke="none" stroke-width="0.8"/>
<text transform="translate(172.47 507.70) scale(0.9567 1)" font-size="6.8" fill="#3a3a3a" stroke="#3a3a3a" stroke-width="0.08">#32</text>
<text transform="translate(269.27 356.30) scale(1.0006 1)" font-size="8.9" fill="#222" stroke="#222" stroke-width="0.08">Non-responders</text>
<line x1="246.90" y1="363.70" x2="246.90" y2="466.00" stroke="#111" stroke-width="1.15" />
<line x1="244.30" y1="364.30" x2="246.90" y2="364.30" stroke="#111" stroke-width="0.9" />
<line x1="245.60" y1="376.15" x2="246.90" y2="376.15" stroke="#111" stroke-width="0.5" />
<line x1="245.60" y1="373.16" x2="246.90" y2="373.16" stroke="#111" stroke-width="0.5" />
<line x1="245.60" y1="371.05" x2="246.90" y2="371.05" stroke="#111" stroke-width="0.5" />
<line x1="245.60" y1="369.40" x2="246.90" y2="369.40" stroke="#111" stroke-width="0.5" />
<line x1="245.60" y1="368.06" x2="246.90" y2="368.06" stroke="#111" stroke-width="0.5" />
<line x1="245.60" y1="366.93" x2="246.90" y2="366.93" stroke="#111" stroke-width="0.5" />
<line x1="245.60" y1="365.94" x2="246.90" y2="365.94" stroke="#111" stroke-width="0.5" />
<line x1="245.60" y1="365.08" x2="246.90" y2="365.08" stroke="#111" stroke-width="0.5" />
<line x1="244.30" y1="381.25" x2="246.90" y2="381.25" stroke="#111" stroke-width="0.9" />
<line x1="245.60" y1="393.10" x2="246.90" y2="393.10" stroke="#111" stroke-width="0.5" />
<line x1="245.60" y1="390.11" x2="246.90" y2="390.11" stroke="#111" stroke-width="0.5" />
<line x1="245.60" y1="388.00" x2="246.90" y2="388.00" stroke="#111" stroke-width="0.5" />
<line x1="245.60" y1="386.35" x2="246.90" y2="386.35" stroke="#111" stroke-width="0.5" />
<line x1="245.60" y1="385.01" x2="246.90" y2="385.01" stroke="#111" stroke-width="0.5" />
<line x1="245.60" y1="383.88" x2="246.90" y2="383.88" stroke="#111" stroke-width="0.5" />
<line x1="245.60" y1="382.89" x2="246.90" y2="382.89" stroke="#111" stroke-width="0.5" />
<line x1="245.60" y1="382.03" x2="246.90" y2="382.03" stroke="#111" stroke-width="0.5" />
<line x1="244.30" y1="398.20" x2="246.90" y2="398.20" stroke="#111" stroke-width="0.9" />
<line x1="245.60" y1="410.05" x2="246.90" y2="410.05" stroke="#111" stroke-width="0.5" />
<line x1="245.60" y1="407.06" x2="246.90" y2="407.06" stroke="#111" stroke-width="0.5" />
<line x1="245.60" y1="404.95" x2="246.90" y2="404.95" stroke="#111" stroke-width="0.5" />
<line x1="245.60" y1="403.30" x2="246.90" y2="403.30" stroke="#111" stroke-width="0.5" />
<line x1="245.60" y1="401.96" x2="246.90" y2="401.96" stroke="#111" stroke-width="0.5" />
<line x1="245.60" y1="400.83" x2="246.90" y2="400.83" stroke="#111" stroke-width="0.5" />
<line x1="245.60" y1="399.84" x2="246.90" y2="399.84" stroke="#111" stroke-width="0.5" />
<line x1="245.60" y1="398.98" x2="246.90" y2="398.98" stroke="#111" stroke-width="0.5" />
<line x1="244.30" y1="415.15" x2="246.90" y2="415.15" stroke="#111" stroke-width="0.9" />
<line x1="245.60" y1="427.00" x2="246.90" y2="427.00" stroke="#111" stroke-width="0.5" />
<line x1="245.60" y1="424.01" x2="246.90" y2="424.01" stroke="#111" stroke-width="0.5" />
<line x1="245.60" y1="421.90" x2="246.90" y2="421.90" stroke="#111" stroke-width="0.5" />
<line x1="245.60" y1="420.25" x2="246.90" y2="420.25" stroke="#111" stroke-width="0.5" />
<line x1="245.60" y1="418.91" x2="246.90" y2="418.91" stroke="#111" stroke-width="0.5" />
<line x1="245.60" y1="417.78" x2="246.90" y2="417.78" stroke="#111" stroke-width="0.5" />
<line x1="245.60" y1="416.79" x2="246.90" y2="416.79" stroke="#111" stroke-width="0.5" />
<line x1="245.60" y1="415.93" x2="246.90" y2="415.93" stroke="#111" stroke-width="0.5" />
<line x1="244.30" y1="432.10" x2="246.90" y2="432.10" stroke="#111" stroke-width="0.9" />
<line x1="245.60" y1="443.95" x2="246.90" y2="443.95" stroke="#111" stroke-width="0.5" />
<line x1="245.60" y1="440.96" x2="246.90" y2="440.96" stroke="#111" stroke-width="0.5" />
<line x1="245.60" y1="438.85" x2="246.90" y2="438.85" stroke="#111" stroke-width="0.5" />
<line x1="245.60" y1="437.20" x2="246.90" y2="437.20" stroke="#111" stroke-width="0.5" />
<line x1="245.60" y1="435.86" x2="246.90" y2="435.86" stroke="#111" stroke-width="0.5" />
<line x1="245.60" y1="434.73" x2="246.90" y2="434.73" stroke="#111" stroke-width="0.5" />
<line x1="245.60" y1="433.74" x2="246.90" y2="433.74" stroke="#111" stroke-width="0.5" />
<line x1="245.60" y1="432.88" x2="246.90" y2="432.88" stroke="#111" stroke-width="0.5" />
<line x1="244.30" y1="449.05" x2="246.90" y2="449.05" stroke="#111" stroke-width="0.9" />
<line x1="245.60" y1="460.90" x2="246.90" y2="460.90" stroke="#111" stroke-width="0.5" />
<line x1="245.60" y1="457.91" x2="246.90" y2="457.91" stroke="#111" stroke-width="0.5" />
<line x1="245.60" y1="455.80" x2="246.90" y2="455.80" stroke="#111" stroke-width="0.5" />
<line x1="245.60" y1="454.15" x2="246.90" y2="454.15" stroke="#111" stroke-width="0.5" />
<line x1="245.60" y1="452.81" x2="246.90" y2="452.81" stroke="#111" stroke-width="0.5" />
<line x1="245.60" y1="451.68" x2="246.90" y2="451.68" stroke="#111" stroke-width="0.5" />
<line x1="245.60" y1="450.69" x2="246.90" y2="450.69" stroke="#111" stroke-width="0.5" />
<line x1="245.60" y1="449.83" x2="246.90" y2="449.83" stroke="#111" stroke-width="0.5" />
<line x1="244.30" y1="466.00" x2="246.90" y2="466.00" stroke="#111" stroke-width="0.9" />
<text transform="translate(224.46 366.60) scale(1.0300 1)" font-size="6.2" fill="#3a3a3a" stroke="#3a3a3a" stroke-width="0.08">1×10<tspan font-size="3.60" dx="0.49" dy="-2.60">6</tspan></text>
<text transform="translate(224.46 383.55) scale(1.0300 1)" font-size="6.2" fill="#3a3a3a" stroke="#3a3a3a" stroke-width="0.08">1×10<tspan font-size="3.60" dx="0.49" dy="-2.60">5</tspan></text>
<text transform="translate(224.46 400.50) scale(1.0300 1)" font-size="6.2" fill="#3a3a3a" stroke="#3a3a3a" stroke-width="0.08">1×10<tspan font-size="3.60" dx="0.49" dy="-2.60">4</tspan></text>
<text transform="translate(224.46 417.45) scale(1.0300 1)" font-size="6.2" fill="#3a3a3a" stroke="#3a3a3a" stroke-width="0.08">1×10<tspan font-size="3.60" dx="0.49" dy="-2.60">3</tspan></text>
<text transform="translate(224.46 434.40) scale(1.0300 1)" font-size="6.2" fill="#3a3a3a" stroke="#3a3a3a" stroke-width="0.08">1×10<tspan font-size="3.60" dx="0.49" dy="-2.60">2</tspan></text>
<text transform="translate(224.46 451.35) scale(1.0300 1)" font-size="6.2" fill="#3a3a3a" stroke="#3a3a3a" stroke-width="0.08">1×10<tspan font-size="3.60" dx="0.49" dy="-2.60">1</tspan></text>
<text transform="translate(224.46 468.30) scale(1.0300 1)" font-size="6.2" fill="#3a3a3a" stroke="#3a3a3a" stroke-width="0.08">1×10<tspan font-size="3.60" dx="0.49" dy="-2.60">0</tspan></text>
<line x1="246.90" y1="466.20" x2="355.00" y2="466.20" stroke="#111" stroke-width="1.15" />
<line x1="246.90" y1="466.20" x2="246.90" y2="469.00" stroke="#111" stroke-width="0.9" />
<text transform="translate(246.90 479.00) scale(0.9500 1)" font-size="7.0" text-anchor="middle" fill="#3a3a3a" stroke="#3a3a3a" stroke-width="0.08">3h</text>
<line x1="261.95" y1="466.20" x2="261.95" y2="469.00" stroke="#111" stroke-width="0.9" />
<text transform="translate(261.95 479.00) scale(0.9500 1)" font-size="7.0" text-anchor="middle" fill="#3a3a3a" stroke="#3a3a3a" stroke-width="0.08">1w</text>
<line x1="277.00" y1="466.20" x2="277.00" y2="469.00" stroke="#111" stroke-width="0.9" />
<text transform="translate(277.00 479.00) scale(0.9500 1)" font-size="7.0" text-anchor="middle" fill="#3a3a3a" stroke="#3a3a3a" stroke-width="0.08">2w</text>
<line x1="292.05" y1="466.20" x2="292.05" y2="469.00" stroke="#111" stroke-width="0.9" />
<text transform="translate(292.05 479.00) scale(0.9500 1)" font-size="7.0" text-anchor="middle" fill="#3a3a3a" stroke="#3a3a3a" stroke-width="0.08">3w</text>
<line x1="307.10" y1="466.20" x2="307.10" y2="469.00" stroke="#111" stroke-width="0.9" />
<text transform="translate(307.10 479.00) scale(0.9500 1)" font-size="7.0" text-anchor="middle" fill="#3a3a3a" stroke="#3a3a3a" stroke-width="0.08">4w</text>
<line x1="322.15" y1="466.20" x2="322.15" y2="469.00" stroke="#111" stroke-width="0.9" />
<text transform="translate(322.15 479.00) scale(0.9500 1)" font-size="7.0" text-anchor="middle" fill="#3a3a3a" stroke="#3a3a3a" stroke-width="0.08">6w</text>
<line x1="337.20" y1="466.20" x2="337.20" y2="469.00" stroke="#111" stroke-width="0.9" />
<text transform="translate(337.20 479.00) scale(0.9500 1)" font-size="7.0" text-anchor="middle" fill="#3a3a3a" stroke="#3a3a3a" stroke-width="0.08">8w</text>
<line x1="352.25" y1="466.20" x2="352.25" y2="469.00" stroke="#111" stroke-width="0.9" />
<text transform="translate(352.25 479.00) scale(0.9500 1)" font-size="7.0" text-anchor="middle" fill="#3a3a3a" stroke="#3a3a3a" stroke-width="0.08">3m</text>
<text transform="translate(279.22 490.80) scale(0.8275 1)" font-size="8.6" fill="#3a3a3a" stroke="#3a3a3a" stroke-width="0.08">Followup time</text>
<text transform="translate(217.60 452.34) rotate(-90) scale(0.7813 1)" font-size="8.6" fill="#3a3a3a" stroke="#3a3a3a" stroke-width="0.12">CAR transgene /mL blood</text>
<polyline points="246.90,424.60 261.95,405.70 277.00,398.80 292.05,410.80 307.10,410.80 322.15,440.30" fill="none" stroke="#6e4321" stroke-width="1.15" stroke-linejoin="round" />
<polyline points="246.90,426.90 261.95,408.50 277.00,401.10 292.05,435.00 307.10,433.40 322.15,432.70 337.20,447.20" fill="none" stroke="#6e4321" stroke-width="1.15" stroke-linejoin="round" />
<polyline points="246.90,428.10 261.95,416.50 277.00,415.80 292.05,435.00" fill="none" stroke="#6e4321" stroke-width="1.15" stroke-linejoin="round" />
<polyline points="246.90,450.00 261.95,413.50 277.00,401.50 292.05,418.20" fill="none" stroke="#6e4321" stroke-width="1.15" stroke-linejoin="round" />
<polyline points="246.90,410.30 261.95,391.80 277.00,371.10 292.05,422.80 307.10,440.30 322.15,432.70 337.20,438.00 352.25,448.20" fill="none" stroke="#6e4321" stroke-width="1.15" stroke-linejoin="round" />
<circle cx="246.90" cy="424.60" r="1.4" fill="#4b2c12" stroke="none" stroke-width="0.8"/>
<circle cx="261.95" cy="405.70" r="1.4" fill="#4b2c12" stroke="none" stroke-width="0.8"/>
<circle cx="277.00" cy="398.80" r="1.4" fill="#4b2c12" stroke="none" stroke-width="0.8"/>
<circle cx="292.05" cy="410.80" r="1.4" fill="#4b2c12" stroke="none" stroke-width="0.8"/>
<circle cx="307.10" cy="410.80" r="1.4" fill="#4b2c12" stroke="none" stroke-width="0.8"/>
<circle cx="322.15" cy="440.30" r="1.4" fill="#4b2c12" stroke="none" stroke-width="0.8"/>
<circle cx="246.90" cy="426.90" r="1.4" fill="#4b2c12" stroke="none" stroke-width="0.8"/>
<circle cx="261.95" cy="408.50" r="1.4" fill="#4b2c12" stroke="none" stroke-width="0.8"/>
<circle cx="277.00" cy="401.10" r="1.4" fill="#4b2c12" stroke="none" stroke-width="0.8"/>
<circle cx="292.05" cy="435.00" r="1.4" fill="#4b2c12" stroke="none" stroke-width="0.8"/>
<circle cx="307.10" cy="433.40" r="1.4" fill="#4b2c12" stroke="none" stroke-width="0.8"/>
<circle cx="322.15" cy="432.70" r="1.4" fill="#4b2c12" stroke="none" stroke-width="0.8"/>
<circle cx="337.20" cy="447.20" r="1.4" fill="#4b2c12" stroke="none" stroke-width="0.8"/>
<circle cx="246.90" cy="428.10" r="1.4" fill="#4b2c12" stroke="none" stroke-width="0.8"/>
<circle cx="261.95" cy="416.50" r="1.4" fill="#4b2c12" stroke="none" stroke-width="0.8"/>
<circle cx="277.00" cy="415.80" r="1.4" fill="#4b2c12" stroke="none" stroke-width="0.8"/>
<circle cx="292.05" cy="435.00" r="1.4" fill="#4b2c12" stroke="none" stroke-width="0.8"/>
<circle cx="246.90" cy="450.00" r="1.4" fill="#4b2c12" stroke="none" stroke-width="0.8"/>
<circle cx="261.95" cy="413.50" r="1.4" fill="#4b2c12" stroke="none" stroke-width="0.8"/>
<circle cx="277.00" cy="401.50" r="1.4" fill="#4b2c12" stroke="none" stroke-width="0.8"/>
<circle cx="292.05" cy="418.20" r="1.4" fill="#4b2c12" stroke="none" stroke-width="0.8"/>
<circle cx="246.90" cy="410.30" r="1.85" fill="#fff" stroke="#222" stroke-width="0.8"/>
<circle cx="261.95" cy="391.80" r="1.85" fill="#fff" stroke="#222" stroke-width="0.8"/>
<circle cx="277.00" cy="371.10" r="1.85" fill="#fff" stroke="#222" stroke-width="0.8"/>
<circle cx="292.05" cy="422.80" r="1.85" fill="#fff" stroke="#222" stroke-width="0.8"/>
<circle cx="307.10" cy="440.30" r="1.85" fill="#fff" stroke="#222" stroke-width="0.8"/>
<circle cx="322.15" cy="432.70" r="1.85" fill="#fff" stroke="#222" stroke-width="0.8"/>
<circle cx="337.20" cy="438.00" r="1.85" fill="#fff" stroke="#222" stroke-width="0.8"/>
<circle cx="352.25" cy="448.20" r="1.85" fill="#fff" stroke="#222" stroke-width="0.8"/>
<circle cx="322.15" cy="432.70" r="1.7" fill="#4b2c12" stroke="none" stroke-width="0.8"/>
<line x1="258.40" y1="505.40" x2="268.90" y2="505.40" stroke="#6e4321" stroke-width="1.0" />
<circle cx="263.70" cy="505.40" r="1.4" fill="#4b2c12" stroke="none" stroke-width="0.8"/>
<text transform="translate(272.37 507.80) scale(0.9313 1)" font-size="6.8" fill="#3a3a3a" stroke="#3a3a3a" stroke-width="0.08">#2</text>
<line x1="289.00" y1="505.40" x2="299.50" y2="505.40" stroke="#6e4321" stroke-width="1.0" />
<circle cx="294.30" cy="505.40" r="1.4" fill="#4b2c12" stroke="none" stroke-width="0.8"/>
<text transform="translate(302.97 507.80) scale(0.9260 1)" font-size="6.8" fill="#3a3a3a" stroke="#3a3a3a" stroke-width="0.08">#6</text>
<line x1="319.30" y1="505.40" x2="329.80" y2="505.40" stroke="#6e4321" stroke-width="1.0" />
<circle cx="324.60" cy="505.40" r="1.4" fill="#4b2c12" stroke="none" stroke-width="0.8"/>
<text transform="translate(333.27 507.80) scale(0.9622 1)" font-size="6.8" fill="#3a3a3a" stroke="#3a3a3a" stroke-width="0.08">#23</text>
<line x1="271.80" y1="515.60" x2="282.30" y2="515.60" stroke="#6e4321" stroke-width="1.0" />
<circle cx="277.10" cy="515.60" r="1.4" fill="#4b2c12" stroke="none" stroke-width="0.8"/>
<text transform="translate(285.77 518.00) scale(0.9350 1)" font-size="6.8" fill="#3a3a3a" stroke="#3a3a3a" stroke-width="0.08">#28</text>
<line x1="306.30" y1="515.60" x2="316.80" y2="515.60" stroke="#6e4321" stroke-width="1.0" />
<circle cx="311.40" cy="515.60" r="1.85" fill="#fff" stroke="#222" stroke-width="0.8"/>
<text transform="translate(320.28 518.00) scale(0.8918 1)" font-size="6.8" fill="#3a3a3a" stroke="#3a3a3a" stroke-width="0.08">#31</text>
<text transform="translate(410.38 357.10) scale(0.9453 1)" font-size="8.9" fill="#222" stroke="#222" stroke-width="0.08">AUC in R vs NR</text>
<line x1="408.80" y1="370.30" x2="408.80" y2="394.40" stroke="#111" stroke-width="1.15" />
<line x1="408.80" y1="401.90" x2="408.80" y2="466.20" stroke="#111" stroke-width="1.15" />
<line x1="407.20" y1="394.40" x2="411.40" y2="394.40" stroke="#111" stroke-width="0.9" />
<line x1="407.20" y1="401.90" x2="411.20" y2="401.90" stroke="#111" stroke-width="0.9" />
<line x1="405.80" y1="373.10" x2="408.80" y2="373.10" stroke="#111" stroke-width="0.9" />
<line x1="405.80" y1="385.50" x2="408.80" y2="385.50" stroke="#111" stroke-width="0.9" />
<line x1="405.80" y1="434.40" x2="408.80" y2="434.40" stroke="#111" stroke-width="0.9" />
<line x1="405.80" y1="466.20" x2="408.80" y2="466.20" stroke="#111" stroke-width="0.9" />
<text transform="translate(385.12 375.00) scale(1.0500 1)" font-size="6.4" fill="#3a3a3a" stroke="#3a3a3a" stroke-width="0.08">6×10<tspan font-size="3.71" dx="0.48" dy="-2.69">5</tspan></text>
<text transform="translate(385.12 387.40) scale(1.0500 1)" font-size="6.4" fill="#3a3a3a" stroke="#3a3a3a" stroke-width="0.08">3×10<tspan font-size="3.71" dx="0.48" dy="-2.69">5</tspan></text>
<text transform="translate(385.12 404.40) scale(1.0500 1)" font-size="6.4" fill="#3a3a3a" stroke="#3a3a3a" stroke-width="0.08">1×10<tspan font-size="3.71" dx="0.48" dy="-2.69">5</tspan></text>
<text transform="translate(385.12 436.60) scale(1.0500 1)" font-size="6.4" fill="#3a3a3a" stroke="#3a3a3a" stroke-width="0.08">5×10<tspan font-size="3.71" dx="0.48" dy="-2.69">4</tspan></text>
<text transform="translate(399.04 468.60) scale(1.0742 1)" font-size="6.4" fill="#3a3a3a" stroke="#3a3a3a" stroke-width="0.08">0</text>
<line x1="408.80" y1="466.20" x2="471.00" y2="466.20" stroke="#111" stroke-width="1.15" />
<rect x="418.8" y="409.4" width="16.2" height="56.8" fill="#3aa53a"/>
<rect x="445.5" y="409.0" width="16.2" height="57.2" fill="#7a4217"/>
<line x1="426.90" y1="409.40" x2="426.90" y2="401.90" stroke="#111" stroke-width="0.9" />
<line x1="426.90" y1="394.60" x2="426.90" y2="389.80" stroke="#111" stroke-width="0.9" />
<line x1="422.20" y1="389.80" x2="431.40" y2="389.80" stroke="#111" stroke-width="0.9" />
<line x1="453.60" y1="409.00" x2="453.60" y2="401.90" stroke="#111" stroke-width="0.9" />
<line x1="453.60" y1="394.60" x2="453.60" y2="386.50" stroke="#111" stroke-width="0.9" />
<line x1="449.20" y1="386.50" x2="458.00" y2="386.50" stroke="#111" stroke-width="0.9" />
<circle cx="426.80" cy="386.70" r="1.9" fill="#111" stroke="none" stroke-width="0.8"/>
<circle cx="426.80" cy="440.40" r="1.9" fill="#111" stroke="none" stroke-width="0.8"/>
<circle cx="426.80" cy="446.10" r="1.9" fill="#111" stroke="none" stroke-width="0.8"/>
<circle cx="426.80" cy="457.70" r="1.9" fill="#111" stroke="none" stroke-width="0.8"/>
<circle cx="453.60" cy="380.20" r="1.9" fill="#111" stroke="none" stroke-width="0.8"/>
<circle cx="453.60" cy="460.60" r="1.9" fill="#111" stroke="none" stroke-width="0.8"/>
<circle cx="447.90" cy="464.60" r="1.9" fill="#111" stroke="none" stroke-width="0.8"/>
<circle cx="453.60" cy="463.40" r="1.9" fill="#111" stroke="none" stroke-width="0.8"/>
<circle cx="459.40" cy="463.40" r="1.9" fill="#111" stroke="none" stroke-width="0.8"/>
<polyline points="426.80,381.30 426.80,369.00 453.60,369.00 453.60,374.80" fill="none" stroke="#333" stroke-width="0.95" stroke-linejoin="round" />
<text transform="translate(436.66 367.50) scale(1.0165 1)" font-size="6.6" fill="#555" stroke="#555" stroke-width="0.08">ns</text>
<line x1="426.80" y1="466.20" x2="426.80" y2="469.00" stroke="#111" stroke-width="0.9" />
<line x1="453.60" y1="466.20" x2="453.60" y2="469.00" stroke="#111" stroke-width="0.9" />
<text transform="translate(426.80 478.30) scale(1.0000 1)" font-size="7.3" text-anchor="middle" fill="#3a3a3a" stroke="#3a3a3a" stroke-width="0.08">R</text>
<text transform="translate(453.60 478.30) scale(1.0000 1)" font-size="7.3" text-anchor="middle" fill="#3a3a3a" stroke="#3a3a3a" stroke-width="0.08">NR</text>
<text transform="translate(379.40 437.45) rotate(-90) scale(0.7587 1)" font-size="8.8" fill="#3a3a3a" stroke="#3a3a3a" stroke-width="0.12">3-week AUC</text>
<line x1="0.00" y1="0.50" x2="520.00" y2="0.50" stroke="#5a5a5a" stroke-width="1" />
<line x1="0.50" y1="0.00" x2="0.50" y2="526.00" stroke="#5e5e5e" stroke-width="1" />
<line x1="519.50" y1="0.00" x2="519.50" y2="526.00" stroke="#484848" stroke-width="1" />
<line x1="0.00" y1="525.50" x2="520.00" y2="525.50" stroke="#3c3c3c" stroke-width="1" />
</svg>
</body></html>
